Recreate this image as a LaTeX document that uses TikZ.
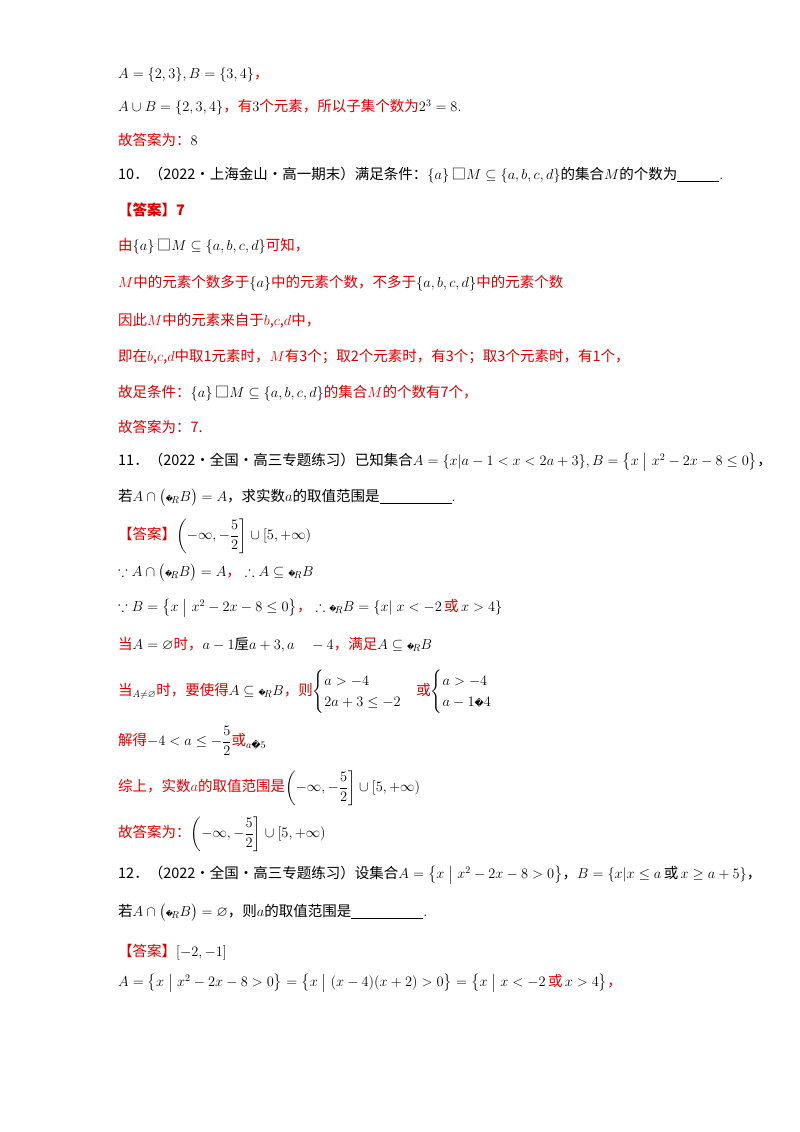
\documentclass[tikz,border=0pt]{standalone}
\usepackage{amsmath,amssymb}
\usepackage{fontspec}
\newfontfamily\cjk{Noto Sans CJK SC}
\newfontfamily\dv{DejaVu Sans}
\newcommand{\R}[1]{\textcolor{red!85!black}{\cjk #1}}
\newcommand{\K}[1]{{\cjk #1}}
\newcommand{\Q}{\text{\dv\scriptsize �}}
\newcommand{\CR}{\Q_{\!R}}
\begin{document}
\begin{tikzpicture}[x=1pt,y=-1pt,line/.style={anchor=west,inner sep=0pt,font=\fontsize{14.5}{17}\selectfont}]
\useasboundingbox (0,0) rectangle (800,1132);
\node[line] (l1) at (118,75) {$A=\{2,3\},B=\{3,4\}$\R{，}};
\node[line] (l2) at (118,107) {$A\cup B=\{2,3,4\}$\R{，有}3\R{个元素，所以子集个数为}$2^3=8$.};
\node[line] (l3) at (118,140) {\R{故答案为：}8};
\node[line] (l4) at (118,175) {\K{10．（2022·上海金山·高一期末）满足条件：}$\{a\}$\,\K{□}$M\subseteq\{a,b,c,d\}$\K{的集合}$M$\K{的个数为}\underline{\hspace{42pt}}.};
\node[line] (l5) at (118,210) {\R{\bfseries 【答案】7}};
\node[line] (l6) at (118,246) {\R{由}$\{a\}$\,\K{□}$M\subseteq\{a,b,c,d\}$\R{可知，}};
\node[line] (l7) at (118,283) {\R{$M$中的元素个数多于}$\{a\}$\R{中的元素个数，不多于}$\{a,b,c,d\}$\R{中的元素个数}};
\node[line] (l8) at (118,321) {\R{因此$M$中的元素来自于$b$,$c$,$d$中，}};
\node[line] (l9) at (118,357) {\R{即在$b$,$c$,$d$中取1元素时，$M$有3个；取2个元素时，有3个；取3个元素时，有1个，}};
\node[line] (l10) at (118,393) {\R{故足条件：}$\{a\}$\,\K{□}$M\subseteq\{a,b,c,d\}$\R{的集合$M$的个数有7个，}};
\node[line] (l11) at (118,427) {\R{故答案为：7.}};
\node[line] (l12) at (118,462) {\K{11．（2022·全国·高三专题练习）已知集合}$A=\{x|a-1<x<2a+3\},B=\bigl\{x\bigm|x^2-2x-8\le 0\bigr\}$\K{，}};
\node[line] (l13) at (118,498) {\K{若}$A\cap\bigl(\CR B\bigr)=A$\K{，求实数}$a$\K{的取值范围是}\underline{\hspace{72pt}}.};
\node[line] (l14) at (118,536) {\R{【答案】}$\left(-\infty,-\dfrac52\right]\cup\left[5,+\infty\right)$};
\node[line] (l15) at (118,573) {$\because A\cap\bigl(\CR B\bigr)=A$\R{，}$\;\therefore A\subseteq\CR B$};
\node[line] (l16) at (118,608) {$\because B=\bigl\{x\bigm|x^2-2x-8\le0\bigr\}$\R{，}$\;\therefore\CR B=\{x|\;x<-2$\,\R{或}\,$x>4\}$};
\node[line] (l17) at (118,645) {\R{当}$A=\varnothing$\R{时，}$a-1\text{\cjk 垕}a+3,a\quad-4$\R{，满足}$A\subseteq\CR B$};
\node[line] (l18) at (118,692) {\R{当}$_{A\neq\varnothing}$\R{时，要使得}$A\subseteq\CR B$\R{，则}$\begin{cases}a>-4\\2a+3\le-2\end{cases}$\R{或}$\begin{cases}a>-4\\a-1\text{\dv\small �}4\end{cases}$};
\node[line] (l19) at (118,741) {\R{解得}$-4<a\le-\dfrac52$\R{或}$_{a\text{\dv\small �}5}$};
\node[line] (l20) at (118,788) {\R{综上，实数$a$的取值范围是}$\left(-\infty,-\dfrac52\right]\cup\left[5,+\infty\right)$};
\node[line] (l21) at (118,834) {\R{故答案为：}$\left(-\infty,-\dfrac52\right]\cup\left[5,+\infty\right)$};
\node[line] (l22) at (118,875) {\K{12．（2022·全国·高三专题练习）设集合}$A=\bigl\{x\bigm|x^2-2x-8>0\bigr\}$\K{，}$B=\{x|x\le a$\,\K{或}\,$x\ge a+5\}$\K{，}};
\node[line] (l23) at (118,913) {\K{若}$A\cap\bigl(\CR B\bigr)=\varnothing$\K{，则}$a$\K{的取值范围是}\underline{\hspace{72pt}}.};
\node[line] (l24) at (118,952) {\R{【答案】}$[-2,-1]$};
\node[line] (l25) at (118,983) {$A=\bigl\{x\bigm|x^2-2x-8>0\bigr\}=\bigl\{x\bigm|(x-4)(x+2)>0\bigr\}=\bigl\{x\bigm|x<-2$\,\R{或}\,$x>4\bigr\}$\R{，}};
\end{tikzpicture}
\end{document}
